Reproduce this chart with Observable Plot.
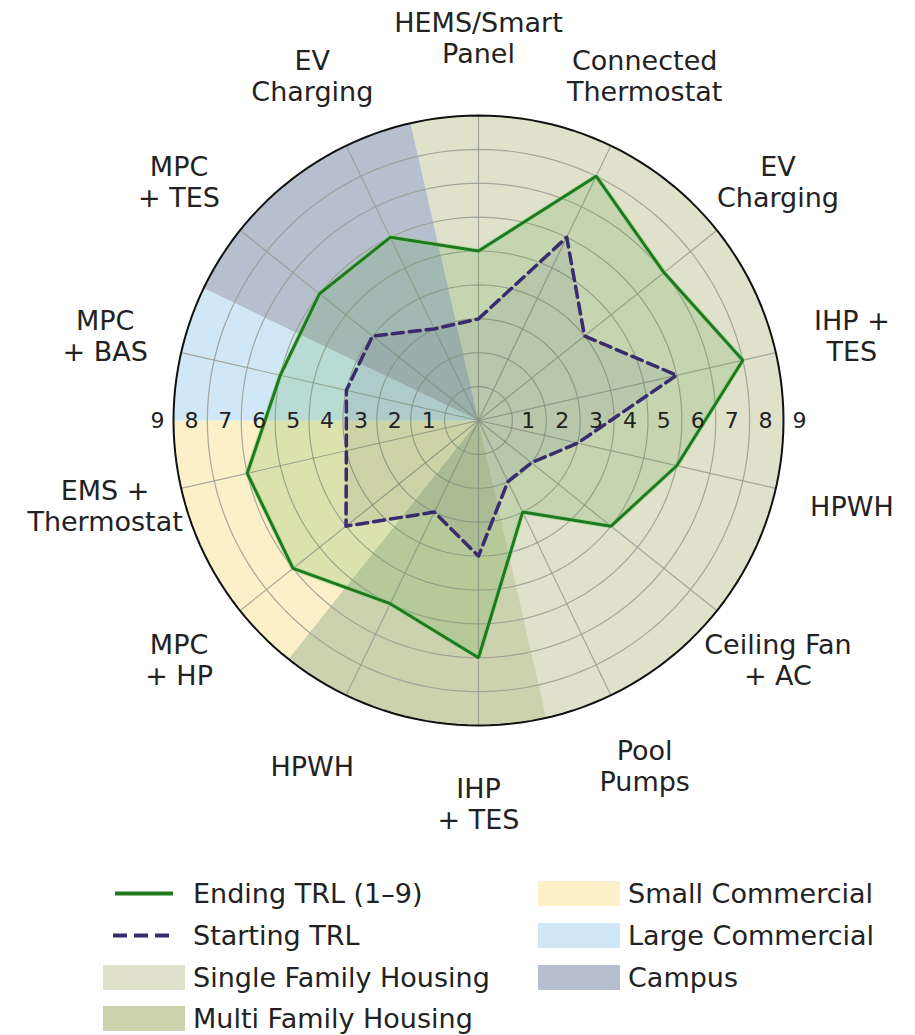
<!DOCTYPE html>
<html><head><meta charset="utf-8">
<script src="https://cdn.jsdelivr.net/npm/d3@7"></script>
<script src="https://cdn.jsdelivr.net/npm/@observablehq/plot@0.6"></script>
<style>
body{margin:0;background:#fff;font-family:"DejaVu Sans",sans-serif;color:#222;}
#chart{width:915px;height:860px;}
#legend{position:relative;width:915px;height:175px;}
.item{position:absolute;height:30px;display:flex;align-items:center;font-size:27px;white-space:nowrap;}
.item .sw{width:82px;height:25px;margin-right:8px;flex:none;}
.item svg{margin-right:8px;flex:none;}
</style></head><body>
<div id="chart"></div>
<div id="legend"></div>
<script>
// ---- data ----
const categories = ["HEMS/Smart\nPanel","Connected\nThermostat","EV\nCharging","IHP +\nTES","HPWH","Ceiling Fan\n+ AC","Pool\nPumps","IHP\n+ TES","HPWH","MPC\n+ HP","EMS +\nThermostat","MPC\n+ BAS","MPC\n+ TES","EV\nCharging"];
const endingTRL   = [5, 8, 7, 8, 6, 5, 3, 7, 6, 7, 7, 6, 6, 6];
const startingTRL = [3, 6, 4, 6, 3, 2, 2, 4, 3, 5, 4, 4, 4, 3];
const categorySegment = ["Single Family Housing","Single Family Housing","Single Family Housing","Single Family Housing","Single Family Housing","Single Family Housing","Single Family Housing","Multi Family Housing","Multi Family Housing","Small Commercial","Small Commercial","Large Commercial","Campus","Campus"];
const segmentNames  = ["Single Family Housing","Multi Family Housing","Small Commercial","Large Commercial","Campus"];
const segmentColors = ["#dfe1ca","#ccd2ae","#fbf0c8","#d0e8f5","#b5bfcd"];
const radialTicks = [1,2,3,4,5,6,7,8,9];
const rMax = 9;
const seriesNames = ["Ending TRL (1–9)","Starting TRL"];
const seriesColors = ["#1f7a1f","#3a2a6e"];

// ---- geometry helpers ----
const W = 915, H = 860, cx = 478, cy = 420, k = 305 / rMax;
const N = categories.length, step = 2 * Math.PI / N;
const ang = i => i * step;
const P = (r, a) => ({x: r * Math.sin(a), y: r * Math.cos(a)});

// merged sector wedges (consecutive categories of same segment)
const runs = [];
categorySegment.forEach((s, i) => {
  const last = runs[runs.length - 1];
  if (last && last.seg === s) last.end = i; else runs.push({seg: s, start: i, end: i});
});
const sectorRows = [];
runs.forEach((run, ri) => {
  const a0 = ang(run.start) - step / 2, a1 = ang(run.end) + step / 2;
  sectorRows.push({id: ri, seg: run.seg, ...P(0, 0)});
  const n = 60;
  for (let j = 0; j <= n; j++) sectorRows.push({id: ri, seg: run.seg, ...P(rMax, a0 + (a1 - a0) * j / n)});
});

const ringRows = [];
radialTicks.forEach(r => { for (let j = 0; j <= 180; j++) ringRows.push({r, ...P(r, 2 * Math.PI * j / 180)}); });

const poly = vals => { const pts = vals.map((v, i) => P(v, ang(i))); pts.push(pts[0]); return pts; };
const endPts = poly(endingTRL), startPts = poly(startingTRL);

const tickLabels = [];
radialTicks.forEach(r => { tickLabels.push({t: r, x: r + 0.47, y: 0}); tickLabels.push({t: r, x: -(r + 0.47), y: 0}); });

const labelR = 383 / k;

const plot = Plot.plot({
  width: W, height: H,
  margin: 0,
  x: {domain: [-cx / k, (W - cx) / k], axis: null},
  y: {domain: [-(H - cy) / k, cy / k], axis: null},
  color: {domain: segmentNames, range: segmentColors},
  style: {fontFamily: "DejaVu Sans", background: "white", color: "#222"},
  marks: [
    Plot.line(sectorRows, {x: "x", y: "y", z: "id", fill: "seg", stroke: "none"}),
    Plot.line(ringRows.filter(d => d.r < rMax), {x: "x", y: "y", z: "r", stroke: "#9a9a92", strokeWidth: 1.2, strokeOpacity: 0.85}),
    Plot.link(categories, {x1: 0, y1: 0, x2: (d, i) => P(rMax, ang(i)).x, y2: (d, i) => P(rMax, ang(i)).y, stroke: "#9a9a92", strokeWidth: 1.2, strokeOpacity: 0.85}),
    Plot.line(endPts, {x: "x", y: "y", fill: "#3c9a2c", fillOpacity: 0.16, stroke: "none"}),
    Plot.line(startPts, {x: "x", y: "y", fill: "#4a4a70", fillOpacity: 0.10, stroke: "none"}),
    Plot.line(ringRows.filter(d => d.r === rMax), {x: "x", y: "y", stroke: "#111", strokeWidth: 2}),
    Plot.line(endPts, {x: "x", y: "y", stroke: "#8fd58a", strokeWidth: 5, strokeOpacity: 0.5, strokeLinejoin: "miter"}),
    Plot.line(endPts, {x: "x", y: "y", stroke: seriesColors[0], strokeWidth: 3, strokeLinejoin: "miter"}),
    Plot.line(startPts, {x: "x", y: "y", stroke: seriesColors[1], strokeWidth: 3.5, strokeDasharray: "11,6", strokeLinejoin: "round"}),
    Plot.text(tickLabels, {x: "x", y: "y", text: "t", fontSize: 22, fill: "#222"}),
    Plot.text(categories, {x: (d, i) => P(labelR, ang(i)).x, y: (d, i) => P(labelR, ang(i)).y, text: d => d, fontSize: 27, lineHeight: 1.15, fill: "#222"})
  ]
});
document.getElementById("chart").appendChild(plot);

// ---- legend ----
const leg = document.getElementById("legend");
const rowY = [33, 75, 117, 158];
function addItem(left, row, swatchHTML, label) {
  const d = document.createElement("div");
  d.className = "item";
  d.style.left = left + "px";
  d.style.top = (rowY[row] - 15) + "px";
  d.innerHTML = swatchHTML + `<span>${label}</span>`;
  leg.appendChild(d);
}
addItem(103, 0, `<svg width="82" height="25"><line x1="12" x2="70" y1="12.5" y2="12.5" stroke="${seriesColors[0]}" stroke-width="4"/></svg>`, seriesNames[0]);
addItem(103, 1, `<svg width="82" height="25"><line x1="10" x2="70" y1="12.5" y2="12.5" stroke="${seriesColors[1]}" stroke-width="4" stroke-dasharray="14,7"/></svg>`, seriesNames[1]);
addItem(103, 2, `<div class="sw" style="background:${segmentColors[0]}"></div>`, segmentNames[0]);
addItem(103, 3, `<div class="sw" style="background:${segmentColors[1]}"></div>`, segmentNames[1]);
addItem(538, 0, `<div class="sw" style="background:${segmentColors[2]}"></div>`, segmentNames[2]);
addItem(538, 1, `<div class="sw" style="background:${segmentColors[3]}"></div>`, segmentNames[3]);
addItem(538, 2, `<div class="sw" style="background:${segmentColors[4]}"></div>`, segmentNames[4]);
</script>
</body></html>
